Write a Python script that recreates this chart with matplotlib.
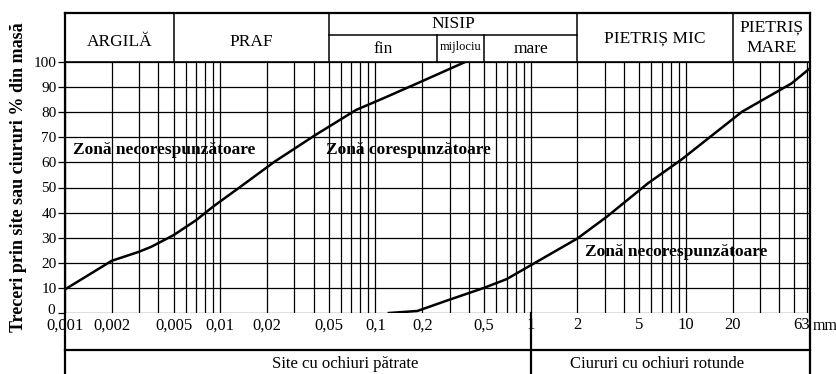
import numpy as np
import matplotlib.pyplot as plt
from matplotlib.transforms import blended_transform_factory, ScaledTranslation

plt.rcParams['font.family'] = ['Liberation Serif', 'DejaVu Serif']

# curve data (grain size mm, % passing)
upper_d = [0.001, 0.002, 0.003, 0.0036, 0.005, 0.007, 0.009, 0.0135, 0.0224,
           0.041, 0.075, 0.112, 0.186, 0.378]
upper_p = [9.4, 20.8, 24.4, 26.4, 31, 37, 42.4, 50.3, 60.3, 70.9, 80.9, 85.5,
           91.5, 100]
lower_d = [0.122, 0.186, 0.29, 0.5, 0.7, 1.0, 2.0, 3.1, 5.7, 9.3, 23, 48, 63]
lower_p = [0, 0.8, 5, 10, 13.5, 19, 29.7, 38.4, 51.7, 61, 80.2, 91.5, 97.5]

xtick_vals = [0.001, 0.002, 0.005, 0.01, 0.02, 0.05, 0.1, 0.2, 0.5, 1, 2, 5,
              10, 20, 63]
xtick_labels = ['0,001', '0,002', '0,005', '0,01', '0,02', '0,05', '0,1',
                '0,2', '0,5', '1', '2', '5', '10', '20', '63']
yticks = list(range(0, 101, 10))

fig = plt.figure(figsize=(8.37, 3.74), dpi=100)
ax = fig.add_axes([65 / 837, 1 - 313 / 374, 745 / 837, 251 / 374])
ax.set_xscale('log')
ax.set_xlim(0.001, 63)
ax.set_ylim(0, 100)

# grid
minor = [m * 10.0 ** k for k in range(-3, 2) for m in range(1, 10)]
minor = [v for v in minor if 0.001 <= v <= 60]
for v in minor:
    ax.axvline(v, color='k', lw=0.9, zorder=1)
for v in yticks:
    ax.axhline(v, color='k', lw=0.9, zorder=1)

ax.plot(upper_d, upper_p, color='k', lw=1.8, zorder=3)
ax.plot(lower_d, lower_p, color='k', lw=1.8, zorder=3)

for s in ax.spines.values():
    s.set_visible(False)

ax.set_xticks(xtick_vals)
ax.set_xticklabels(xtick_labels, fontsize=12)
ax.xaxis.set_minor_locator(plt.NullLocator())
ax.tick_params(axis='x', length=0, pad=3)
ax.get_xticklabels()[-1].set_ha('right')
ax.set_yticks(yticks)
ax.set_yticklabels([str(v) for v in yticks], fontsize=11)
ax.tick_params(axis='y', length=5, width=0.9, direction='out', pad=1)
# lift the "0" a little so it clears "0,001"
lab0 = ax.get_yticklabels()[0]
lab0.set_transform(lab0.get_transform() +
                   ScaledTranslation(-1 / 72, 3 / 72, fig.dpi_scale_trans))

tr = blended_transform_factory(ax.transData, ax.transAxes)
y_top = 1.195
y_mid = 1.108
y_bot = -0.147
y_end = -0.25
lw_box = 1.6

def line(xs, ys, lw=lw_box):
    ax.plot(xs, ys, color='k', lw=lw, transform=tr, clip_on=False, zorder=4)

# outer frame
line([0.001, 0.001], [y_top, y_end])
line([63, 63], [y_top, y_end])
line([0.001, 63], [y_top, y_top])
line([0.001, 63], [1, 1], lw=1.2)
line([0.001, 63], [y_bot, y_bot])
line([1, 1], [0, y_end])
# header dividers
for v in [0.005, 0.05, 2, 20]:
    line([v, v], [1, y_top], lw=1.1)
line([0.05, 2], [y_mid, y_mid], lw=1.1)
for v in [0.25, 0.5]:
    line([v, v], [1, y_mid], lw=1.1)

def gmean(a, b):
    return np.sqrt(a * b)

hdr = dict(transform=tr, ha='center', va='center', fontsize=12.5)
ax.text(gmean(0.001, 0.005), 1.078, 'ARGILĂ', **hdr)
ax.text(gmean(0.005, 0.05), 1.078, 'PRAF', **hdr)
ax.text(gmean(0.05, 2), 1.153, 'NISIP', **hdr)
ax.text(gmean(0.05, 0.25), 1.05, 'fin', **hdr)
ax.text(gmean(0.25, 0.5), 1.06, 'mijlociu', transform=tr, ha='center',
        va='center', fontsize=9)
ax.text(gmean(0.5, 2), 1.05, 'mare', **hdr)
ax.text(gmean(2, 20), 1.095, 'PIETRIȘ MIC', **hdr)
ax.text(gmean(20, 63), 1.137, 'PIETRIȘ', **hdr)
ax.text(gmean(20, 63), 1.055, 'MARE', **hdr)

bot = dict(transform=ax.transAxes, ha='center', va='center', fontsize=12)
ax.text((345 - 65) / 745, -0.205, 'Site cu ochiuri pătrate', **bot)
ax.text((657 - 65) / 745, -0.205, 'Ciururi cu ochiuri rotunde', **bot)
ax.text(66, -0.02, 'mm', transform=tr, ha='left', va='top', fontsize=11.5)

zone = dict(fontsize=12.5, fontweight='bold', ha='left', va='center', zorder=5)
ax.text(0.00113, 65, 'Zonă necorespunzătoare', **zone)
ax.text(0.048, 65, 'Zonă corespunzătoare', **zone)
ax.text(2.23, 24.4, 'Zonă necorespunzătoare', **zone)

fig.text(19 / 837, 1 - 177 / 374, 'Treceri prin site sau ciururi % din masă',
         rotation=90, ha='center', va='center', fontsize=13,
         fontweight='bold')

fig.savefig('out.png', dpi=100)
